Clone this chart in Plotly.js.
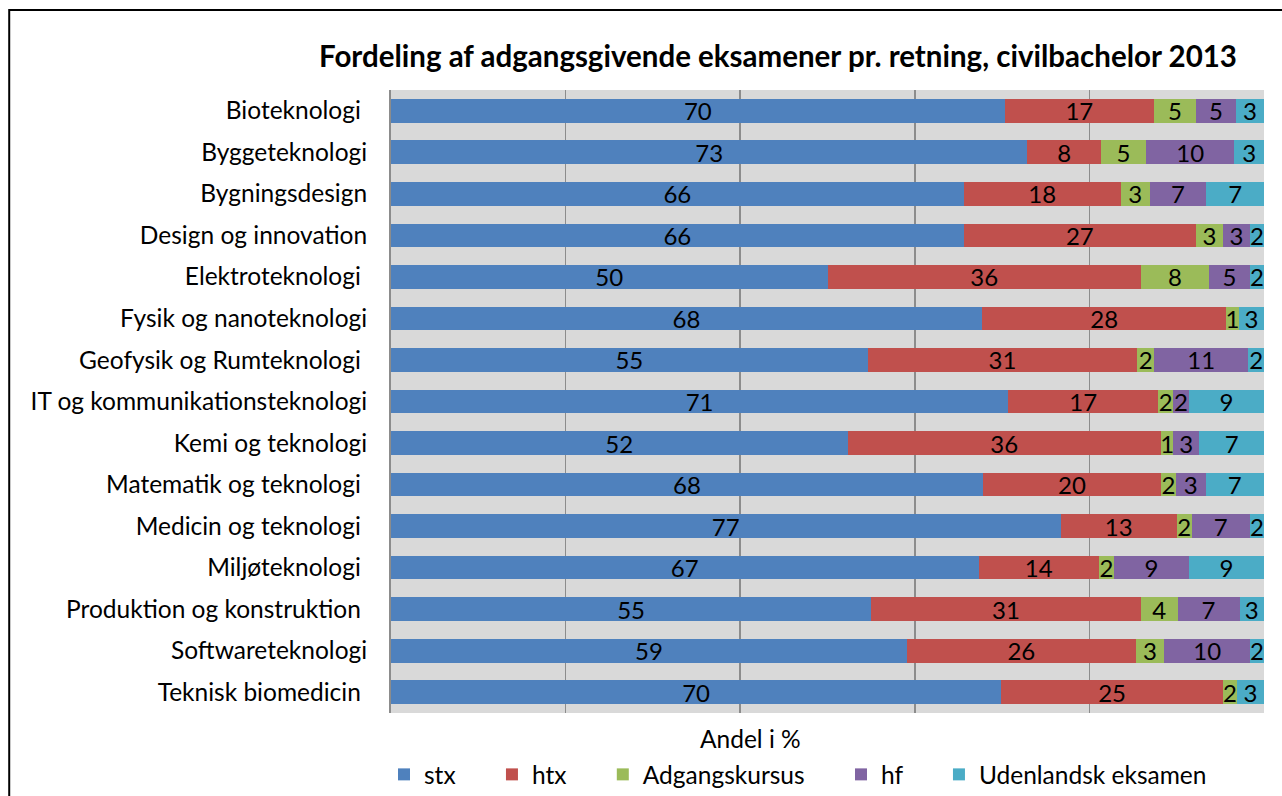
<!DOCTYPE html>
<html>
<head>
<meta charset="utf-8">
<script src="https://cdn.plot.ly/plotly-3.0.1.min.js"></script>
<style>html,body{margin:0;padding:0;background:#fff;}#chart{width:1282px;height:796px;}</style>
</head>
<body>
<div id="chart"></div>
<script>
const categories = [
  "Bioteknologi\u00a0", "Byggeteknologi", "Bygningsdesign", "Design og innovation",
  "Elektroteknologi\u00a0", "Fysik og nanoteknologi", "Geofysik og Rumteknologi\u00a0",
  "IT og kommunikationsteknologi", "Kemi og teknologi", "Matematik og teknologi\u00a0",
  "Medicin og teknologi\u00a0", "Miljøteknologi\u00a0", "Produktion og konstruktion\u00a0",
  "Softwareteknologi", "Teknisk biomedicin\u00a0"
];
const stx  = [70.3, 72.9, 65.6, 65.6, 50.0, 67.7, 54.6, 70.7, 52.3, 67.8, 76.7, 67.3, 55.0, 59.1, 69.9];
const htx  = [17.1,  8.4, 18.0, 26.6, 35.9, 28.0, 30.9, 17.2, 35.9, 20.4, 13.3, 13.8, 30.9, 26.2, 25.4];
const adg  = [ 4.8,  5.2,  3.3,  3.1,  7.8,  1.4,  1.9,  1.7,  1.4,  1.7,  1.7,  1.7,  4.2,  3.3,  1.6];
const hf   = [ 4.6, 10.1,  6.5,  3.1,  4.7,  0.0, 10.8,  1.8,  3.0,  3.4,  6.7,  8.6,  7.1,  9.8,  0.0];
const udl  = [ 3.2,  3.4,  6.6,  1.6,  1.6,  2.9,  1.8,  8.6,  7.4,  6.7,  1.6,  8.6,  2.8,  1.6,  3.1];
const seriesNames = ["stx", "htx", "Adgangskursus", "hf", "Udenlandsk eksamen"];
const seriesColors = ["#4f81bd", "#c0504d", "#9bbb59", "#8064a2", "#4bacc6"];
const seriesValues = [stx, htx, adg, hf, udl];

const FONT = "Lato, 'Open Sans', sans-serif";
const FS = 24.5;
const PAD = "\u00a0\u00a0\u00a0\u00a0\u00a0";

const traces = seriesValues.map((vals, i) => ({
  type: "bar",
  orientation: "h",
  name: seriesNames[i] + (i < seriesNames.length - 1 ? PAD : ""),
  y: categories,
  x: vals,
  text: vals.map(v => v > 0 ? String(Math.round(v)) : ""),
  textposition: "inside",
  insidetextanchor: "middle",
  textangle: 0,
  textfont: {family: FONT, size: 24, color: "#000"},
  marker: {color: seriesColors[i], line: {width: 0}},
  hoverinfo: "x+y"
}));

const L = 391, R = 1264.5, T = 90, B = 713.5;
const W = R - L, H = B - T;
const px = x => (x - L) / W;
const py = y => (B - y) / H;

const layout = {
  width: 1282, height: 796,
  margin: {l: L, r: 1282 - R, t: T, b: 796 - B, autoexpand: false},
  paper_bgcolor: "#ffffff",
  plot_bgcolor: "#d9d9d9",
  barmode: "stack",
  bargap: 0.43,
  showlegend: true,
  uniformtext: {mode: "show", minsize: 24},
  title: {
    text: "<b>Fordeling af adgangsgivende eksamener pr. retning, civilbachelor 2013</b>",
    font: {family: FONT, size: 29.5, color: "#000"},
    xref: "container", x: 778 / 1282, xanchor: "center",
    yref: "container", y: 1 - 57 / 796, yanchor: "middle"
  },
  xaxis: {
    range: [0, 100], dtick: 20, tick0: 0,
    showgrid: true, gridcolor: "#8c8c8c", gridwidth: 1.5,
    zeroline: false, showticklabels: false, ticks: "",
    showline: false, fixedrange: true
  },
  yaxis: {
    autorange: "reversed", type: "category",
    showgrid: false, zeroline: false,
    showline: true, linecolor: "#8c8c8c", linewidth: 2,
    ticks: "", ticklabelstandoff: 17,
    tickfont: {family: FONT, size: FS, color: "#000"},
    fixedrange: true
  },
  legend: {
    orientation: "h",
    x: px(384), xanchor: "left",
    y: py(775), yanchor: "middle",
    font: {family: FONT, size: FS, color: "#000"},
    bgcolor: "rgba(0,0,0,0)",
    traceorder: "normal"
  },
  annotations: [{
    text: "Andel i %", showarrow: false,
    xref: "paper", yref: "paper",
    x: px(751), y: py(739), xanchor: "center", yanchor: "middle",
    font: {family: FONT, size: FS, color: "#000"}
  }],
  shapes: [{
    type: "rect", xref: "paper", yref: "paper",
    x0: px(9), x1: px(1290), y0: py(10), y1: py(810),
    line: {color: "#000", width: 2}, fillcolor: "rgba(0,0,0,0)", layer: "below"
  }]
};

Plotly.newPlot("chart", traces, layout, {displayModeBar: false, staticPlot: true});
</script>
</body>
</html>
